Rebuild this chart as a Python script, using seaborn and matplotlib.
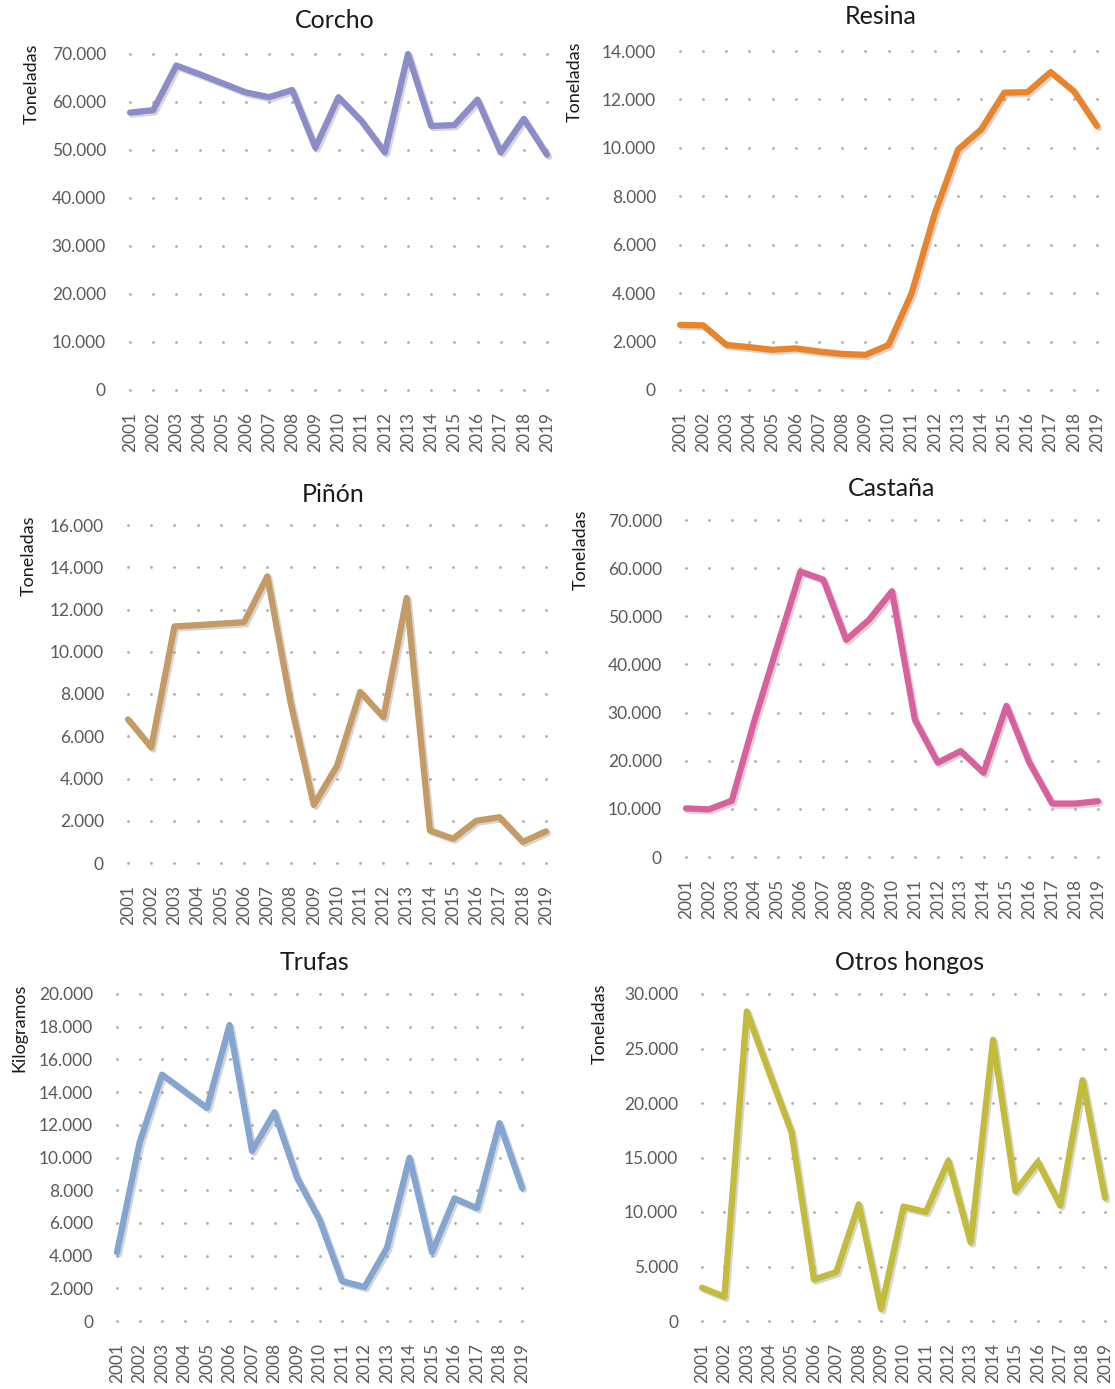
import numpy as np
import pandas as pd
import matplotlib
matplotlib.use("Agg")
import matplotlib.pyplot as plt
import matplotlib.patheffects as pe
from matplotlib.ticker import FuncFormatter
import seaborn as sns

years = [str(y) for y in range(2001, 2020)]

corcho = [57800, 58300, 67600, 65800, 63900, 62000, 61000, 62500, 50500, 61000,
          56000, 49500, 70000, 55000, 55200, 60500, 49500, 56500, 49000]
resina = [2690, 2670, 1860, 1770, 1660, 1720, 1590, 1490, 1450, 1860,
          4000, 7300, 9930, 10760, 12280, 12300, 13130, 12340, 10900]
pinon = [6800, 5470, 11200, 11260, 11330, 11400, 13570, 7600, 2750, 4600,
         8100, 6900, 12550, 1540, 1150, 2000, 2170, 1000, 1500]
castana = [10100, 9900, 11700, 28500, 44000, 59300, 57600, 45100, 49300, 55200,
           28500, 19600, 22000, 17500, 31400, 19600, 11100, 11100, 11600]
trufas = [4200, 10900, 15070, 14050, 13030, 18100, 10400, 12770, 8760, 6200,
          2440, 2080, 4480, 9980, 4200, 7500, 6900, 12100, 8150]
otros_hongos = [3050, 2230, 28400, 22800, 17300, 3800, 4500, 10700, 1100, 10500,
                10000, 14700, 7200, 25800, 11900, 14600, 10600, 22100, 11300]

titles = ["Corcho", "Resina", "Piñón", "Castaña", "Trufas", "Otros hongos"]
units = ["Toneladas", "Toneladas", "Toneladas", "Toneladas", "Kilogramos", "Toneladas"]
series = [corcho, resina, pinon, castana, trufas, otros_hongos]
colors = ["#8c8cc8", "#e8842c", "#c49b64", "#d9609e", "#84a5cf", "#c3bb3b"]
ymaxes = [70000, 14000, 16000, 70000, 20000, 30000]
ysteps = [10000, 2000, 2000, 10000, 2000, 5000]

# pixel layout: (x of 2001, x of 2019, y of top tick, y of 0, title x, title y, ylabel x)
layout = [
    (130, 547, 54, 390, 335, 20, 32),
    (680, 1097, 51, 390, 881, 17, 575),
    (128, 546, 525, 863, 333, 494, 29),
    (686, 1098, 520, 857, 892, 489, 581),
    (117, 522, 994, 1321, 314, 963, 19),
    (702, 1105, 994, 1321, 910, 963, 600),
]

W, H = 1115, 1389
sns.set_theme(style="white")
plt.rcParams["font.family"] = ["Lato", "DejaVu Sans"]

fig = plt.figure(figsize=(W / 100, H / 100), dpi=100)
fig.patch.set_facecolor("white")

fmt = FuncFormatter(lambda v, p: f"{int(round(v)):,}".replace(",", "."))
pad = 0.2

for i in range(6):
    x0, x1, yt, yb, tx, ty, lx = layout[i]
    pxu = (x1 - x0) / 18.0
    left = x0 - pad * pxu
    right = x1 + pad * pxu
    ax = fig.add_axes([left / W, 1 - yb / H, (right - left) / W, (yb - yt) / H])
    df = pd.DataFrame({"x": np.arange(19), "v": series[i]})
    ticks = np.arange(0, ymaxes[i] + 1, ysteps[i])
    # dotted grid at intersections
    gx, gy = np.meshgrid(np.arange(19), ticks)
    ax.scatter(gx.ravel(), gy.ravel(), s=4, color="#ababab", zorder=1, linewidths=0, clip_on=False)
    sns.lineplot(data=df, x="x", y="v", ax=ax, color=colors[i], linewidth=4.5,
                 zorder=3, clip_on=False, legend=False)
    line = ax.lines[-1]
    line.set_solid_joinstyle("round")
    line.set_solid_capstyle("round")
    line.set_path_effects([pe.SimpleLineShadow(offset=(1.5, -1.5), shadow_color="#888888", alpha=0.35),
                           pe.Normal()])
    ax.set_xlim(-pad, 18 + pad)
    ax.set_ylim(0, ymaxes[i])
    ax.set_yticks(ticks)
    ax.yaxis.set_major_formatter(fmt)
    ax.set_xticks(np.arange(19))
    ax.set_xticklabels(years, rotation=90)
    ax.tick_params(axis="y", length=0, pad=14, labelsize=12.5, labelcolor="#5a5a5a")
    ax.tick_params(axis="x", length=0, pad=16, labelsize=12.5, labelcolor="#5a5a5a")
    for s in ax.spines.values():
        s.set_visible(False)
    ax.set_xlabel("")
    ax.set_ylabel("")
    ax.grid(False)
    ax.set_facecolor("none")
    fig.text(tx / W, 1 - ty / H, titles[i], ha="center", va="center", fontsize=18, color="#1a1a1a")
    fig.text(lx / W, 1 - (yt - 10) / H, units[i], ha="center", va="top", rotation=90,
             fontsize=13, color="#1a1a1a")

fig.savefig("out.png", dpi=100, facecolor="white")
